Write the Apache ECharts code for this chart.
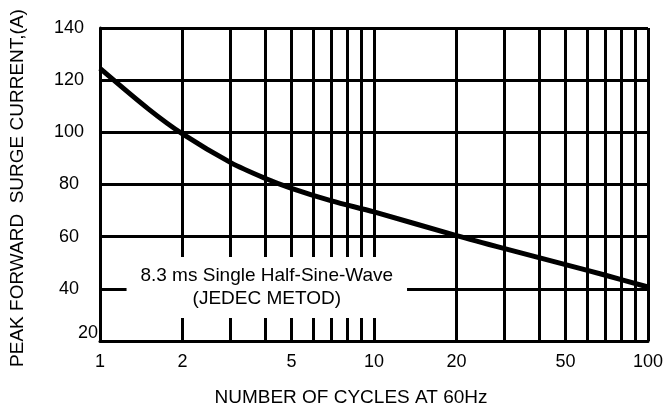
<!DOCTYPE html>
<html>
<head>
<meta charset="utf-8">
<script src="https://cdn.jsdelivr.net/npm/echarts@6/dist/echarts.min.js"></script>
<style>html,body{margin:0;padding:0;background:#fff}#main{width:666px;height:412px}</style>
</head>
<body>
<div id="main"></div>
<script>
// surge current vs number of cycles
var cycles = [1, 1.5, 2, 3, 4, 5, 7, 10, 20, 30, 50, 70, 100];
var current = [124.5, 109, 99.4, 88.4, 82.4, 78.5, 73.7, 69.5, 60.4, 55.4, 49.3, 45.2, 40.7];

var gridCycles = [1, 2, 3, 4, 5, 6, 7, 8, 9, 10, 20, 30, 40, 50, 60, 70, 80, 90, 100];
var xLabels = [1, 2, 5, 10, 20, 50, 100];
var yTicks = [20, 40, 60, 80, 100, 120, 140];

// note box corners (cycles, amps)
var noteCorners = [[1.25, 52.2], [13.2, 28.8]];
var noteText = '8.3 ms Single Half-Sine-Wave\n(JEDEC METOD)';

var chartDom = document.getElementById('main');
var myChart = echarts.init(chartDom);
var option;

var font = 'Liberation Sans, Arial, sans-serif';

option = {
  animation: false,
  grid: { left: 99, right: 9, top: 28, bottom: 71 },
  xAxis: {
    type: 'log',
    logBase: 10,
    min: 1,
    max: 100,
    name: 'NUMBER OF CYCLES AT 60Hz',
    nameLocation: 'middle',
    nameGap: 47,
    nameTextStyle: { fontFamily: font, fontSize: 19, color: '#000', padding: [0, 46, 0, 0] },
    axisLine: { lineStyle: { color: '#000', width: 3 } },
    axisTick: {
      show: true,
      inside: true,
      length: 313,
      customValues: gridCycles,
      lineStyle: { color: '#000', width: 3 }
    },
    axisLabel: {
      customValues: xLabels,
      margin: 12,
      fontFamily: font,
      fontSize: 18,
      color: '#000'
    },
    splitLine: { show: false }
  },
  yAxis: {
    type: 'value',
    min: yTicks[0],
    max: yTicks[yTicks.length - 1],
    interval: 20,
    name: 'PEAK FORWARD  SURGE CURRENT,(A)',
    nameLocation: 'middle',
    nameGap: 73,
    nameTextStyle: { fontFamily: font, fontSize: 19, color: '#000', padding: [0, 7, 0, 0] },
    axisLine: { show: true, lineStyle: { color: '#000', width: 3 } },
    axisTick: { show: false },
    axisLabel: {
      margin: 31,
      align: 'center',
      fontFamily: font,
      fontSize: 18,
      color: '#000',
      formatter: function (v) {
        return v === yTicks[0] ? '{low|' + v + '}' : v;
      },
      rich: {
        low: { fontFamily: font, fontSize: 18, color: '#000', padding: [0, 0, 16, 38] }
      }
    },
    splitLine: { show: true, lineStyle: { color: '#000', width: 3 } }
  },
  series: [
    {
      type: 'line',
      data: cycles.map(function (c, i) { return [c, current[i]]; }),
      smooth: 0.3,
      showSymbol: false,
      lineStyle: { color: '#000', width: 5 },
      markArea: {
        silent: true,
        itemStyle: { color: '#fff', opacity: 1 },
        label: {
          show: true,
          position: 'inside',
          formatter: noteText,
          fontFamily: font,
          fontSize: 19,
          lineHeight: 23,
          color: '#000'
        },
        data: [[
          { coord: noteCorners[0] },
          { coord: noteCorners[1] }
        ]]
      }
    }
  ]
};

option && myChart.setOption(option);
</script>
</body>
</html>
